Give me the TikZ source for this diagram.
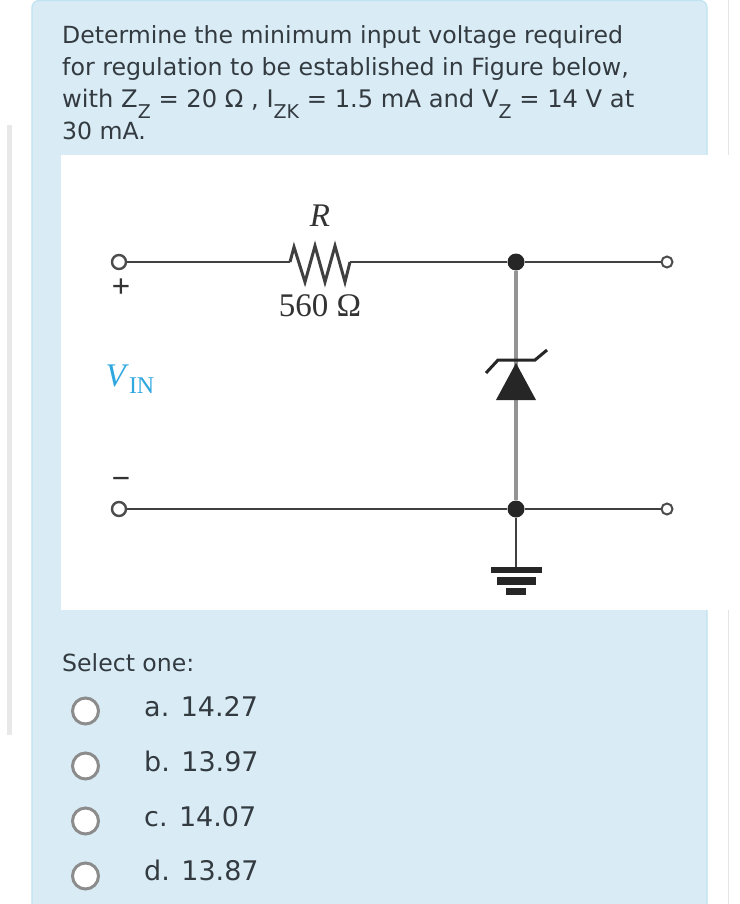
\documentclass[tikz,border=0pt]{standalone}
\usepackage{fontspec}
\setmainfont{DejaVu Sans}
\newfontfamily\figfont{Liberation Serif}
\usetikzlibrary{positioning}
\definecolor{panelblue}{HTML}{D9ECF6}
\definecolor{panelline}{HTML}{BFE3F0}
\definecolor{textgray}{HTML}{333A40}
\definecolor{vincyan}{HTML}{2FA8E0}
\newcommand{\lowsub}[1]{\raisebox{-11pt}{\fontsize{19}{19}\selectfont #1}}
\tikzset{
  qtext/.style={anchor=base west,inner sep=0pt,text=textgray,font=\fontsize{23.6}{32}\selectfont},
  atext/.style={qtext,font=\fontsize{27}{32}\selectfont},
  radio/.style={circle,draw=black!45,fill=white,line width=3pt,minimum size=26pt,inner sep=0pt},
  term/.style={circle,draw=black!70,fill=white,line width=2pt,minimum size=11pt,inner sep=0pt},
  bigterm/.style={term,line width=2.4pt,minimum size=14pt},
  jdot/.style={circle,fill=black!85,minimum size=17pt,inner sep=0pt},
  wire/.style={draw=black!75,line width=2pt},
  zwire/.style={draw=black!42,line width=3.4pt},
  gbar/.style={fill=black!85,inner sep=0pt},
  flabel/.style={inner sep=0pt,text=black!80,font=\figfont\fontsize{33}{33}\selectfont}
}
\begin{document}
\begin{tikzpicture}[x=1pt,y=-1pt,on grid]
\useasboundingbox (0,0) rectangle (739,904);
\fill[white] (0,0) rectangle (739,904);
% page edges
\fill[black!9] (7,125) rectangle (12,735);
\draw[black!10,line width=1pt] (728,0) -- (728,155) (728,610) -- (728,904);
% panel
\draw[fill=panelblue,draw=panelline,line width=1.2pt,rounded corners=7pt] (32,904) -- (32,0.5) -- (707,0.5) -- (707,904);
\fill[white] (61,155) rectangle (739,610);
% question
\node[qtext] (q_1) at (62,44) {Determine the minimum input voltage required};
\node[qtext,font=\fontsize{23.7}{32}\selectfont] (q_2) [below=32pt of q_1.base west,anchor=base west] {for regulation to be established in Figure below,};
\node[qtext,font=\fontsize{24.2}{32}\selectfont] (q_3) [below=32pt of q_2.base west,anchor=base west] {with Z\lowsub{Z} = 20 Ω , I\lowsub{ZK} = 1.5 mA and V\lowsub{Z} = 14 V at};
\node[qtext] (q_4) [below=32pt of q_3.base west,anchor=base west] {30 mA.};
% circuit
\node[bigterm] (in_p) at (119,262) {};
\node[bigterm] (in_m) [below=247pt of in_p] {};
\node[term] (out_p) [right=548pt of in_p] {};
\node[term] (out_m) [below=247pt of out_p] {};
\node[jdot] (j_t) at (516,262) {};
\node[jdot] (j_b) [below=247pt of j_t] {};
\coordinate (r_l) at (290,262);
\coordinate (r_r) at (350,262);
\coordinate (z_a) at (516,363);
\node[gbar,minimum width=51pt,minimum height=6pt] (g_1) at (516,570) {};
\node[gbar,minimum width=39pt,minimum height=8pt] (g_2) [below=11pt of g_1] {};
\node[gbar,minimum width=20pt,minimum height=7pt] (g_3) [below=10pt of g_2] {};
\path[zwire] (j_t) -- (j_b);
\path[wire] (in_p) -- (r_l);
\path[wire] (r_r) -- (j_t) -- (out_p);
\path[wire,line width=3pt] (r_l) -- ++(4,-15) -- ++(11,35) -- ++(10,-36) -- ++(10,36) -- ++(10,-36) -- ++(10,36) -- (r_r);
\path[wire] (in_m) -- (j_b) -- (out_m);
\path[wire] (j_b) -- (g_1);
\fill[black!85] (z_a) -- ++(20,37) -- ++(-40,0) -- cycle;
\draw[black!85,line width=3pt] (z_a) ++(-30,10) -- ++(12,-13) -- ++(37,0) -- ++(12,-10);
\node[flabel] (r_name) at (320,216) {\textit{R}};
\node[flabel] (r_val) at (320,306) {560 Ω};
\node[flabel,font=\figfont\bfseries\fontsize{33}{33}\selectfont] (plus) at (121,288) {+};
\node[flabel,font=\figfont\bfseries\fontsize{33}{33}\selectfont] (minus) at (121,483) {−};
\node[flabel,text=vincyan] (vin) at (130,379) {\textit{V}\raisebox{-7pt}{\fontsize{24}{24}\selectfont IN}};
% answers
\node[qtext] (select) at (62,671) {Select one:};
\node[radio] (rb_a) at (85.5,711) {};
\node[radio] (rb_b) [below=55pt of rb_a] {};
\node[radio] (rb_c) [below=55pt of rb_b] {};
\node[radio] (rb_d) [below=55pt of rb_c] {};
\node[atext] (opt_a) at (144,716) {a. 14.27};
\node[atext] (opt_b) at (144,771) {b. 13.97};
\node[atext] (opt_c) at (144,826) {c. 14.07};
\node[atext] (opt_d) at (144,880) {d. 13.87};
\end{tikzpicture}
\end{document}
